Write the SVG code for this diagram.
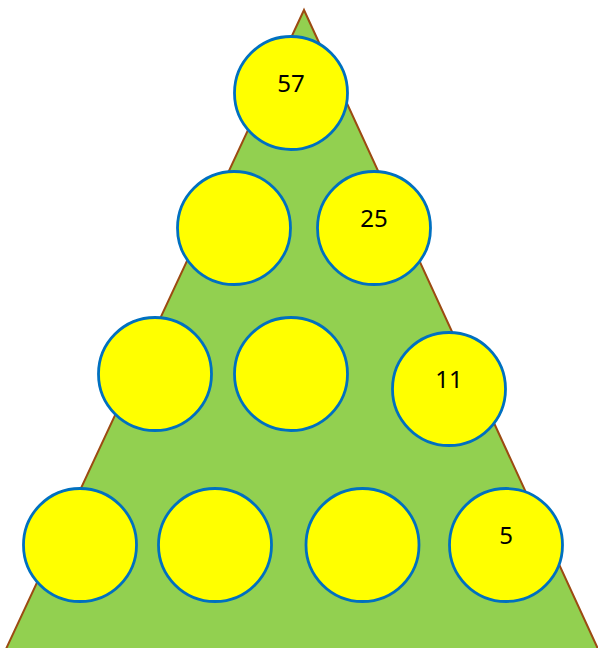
<svg xmlns="http://www.w3.org/2000/svg" width="598" height="648" viewBox="0 0 598 648">
<style>
.tri{fill:#92D050;stroke:#9C4A12;stroke-width:2}
.c{fill:#FFFF00;stroke:#0070C0;stroke-width:2.8}
.t{font-family:"Noto Sans","Liberation Sans",Arial,sans-serif;font-size:24px;fill:#000;text-anchor:middle}
</style>
<polygon class="tri" points="304,10 6,649 598,649"/>
<g id="n57"><circle class="c" cx="291" cy="93" r="56.5"/><text class="t" x="291" y="92">57</text></g>
<g id="n2a"><circle class="c" cx="234" cy="228" r="56.5"/></g>
<g id="n25"><circle class="c" cx="374" cy="228" r="56.5"/><text class="t" x="374" y="227">25</text></g>
<g id="n3a"><circle class="c" cx="155" cy="374" r="56.5"/></g>
<g id="n3b"><circle class="c" cx="291" cy="374" r="56.5"/></g>
<g id="n11"><circle class="c" cx="449" cy="389" r="56.5"/><text class="t" x="449" y="388">11</text></g>
<g id="n4a"><circle class="c" cx="80" cy="545" r="56.5"/></g>
<g id="n4b"><circle class="c" cx="215" cy="545" r="56.5"/></g>
<g id="n4c"><circle class="c" cx="362.5" cy="545" r="56.5"/></g>
<g id="n5"><circle class="c" cx="506" cy="545" r="56.5"/><text class="t" x="506" y="544">5</text></g>
<g id="connectors"/>
</svg>
